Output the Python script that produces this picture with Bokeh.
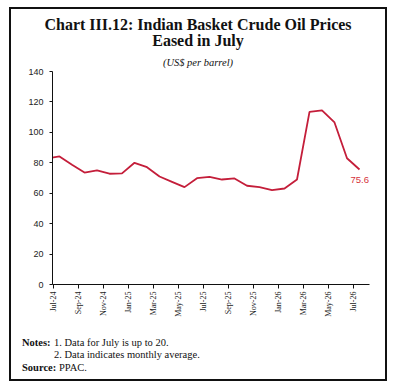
import math
from bokeh.plotting import figure
from bokeh.layouts import column
from bokeh.models import Range1d, FixedTicker, Label, ColumnDataSource, Div
from bokeh.embed import file_html
from bokeh.resources import INLINE

# Monthly average Indian basket crude price (US$ per barrel)
months = ["Jun-24", "Jul-24", "Aug-24", "Sep-24", "Oct-24", "Nov-24", "Dec-24",
          "Jan-25", "Feb-25", "Mar-25", "Apr-25", "May-25", "Jun-25", "Jul-25",
          "Aug-25", "Sep-25", "Oct-25", "Nov-25", "Dec-25", "Jan-26", "Feb-26",
          "Mar-26", "Apr-26", "May-26", "Jun-26", "Jul-26"]
prices = [82.8, 84.2, 78.7, 73.6, 75.0, 72.8, 73.0,
          80.0, 77.1, 71.0, 67.5, 64.0, 69.9, 70.8,
          69.0, 69.7, 64.9, 64.0, 62.0, 63.1, 69.0,
          113.5, 114.4, 106.5, 83.0, 75.6]
tick_labels = ["Jul-24", "Sep-24", "Nov-24", "Jan-25", "Mar-25", "May-25", "Jul-25",
               "Sep-25", "Nov-25", "Jan-26", "Mar-26", "May-26", "Jul-26"]
y_ticks = [0, 20, 40, 60, 80, 100, 120, 140]

title_lines = ["Chart III.12: Indian Basket Crude Oil Prices", "Eased in July"]
unit_text = "(US$ per barrel)"
note_lines = ["1. Data for July is up to 20.", "2. Data indicates monthly average."]
source_text = "PPAC."

# page geometry (pixels)
IN_L, IN_R = 11, 385          # inside of the framing box
HEAD_T, HEAD_B = 9, 67        # heading strip
CHART_B = 330                 # bottom of the chart strip
NOTE_B = 379                  # bottom of the notes strip
FL, FR, FT, FB = 52, 369, 71, 284   # plot frame edges
INK = "#111111"
INNER_W = IN_R - IN_L


def line_box(left, cy, text, size, weight="normal", style="normal", centered=False, top0=0):
    # one absolutely placed line of text, vertically centred on cy (page px)
    lh = 2 * size
    top = cy - top0 - lh / 2
    if centered:
        pos = f"left:0;width:{INNER_W}px;text-align:center;"
    else:
        pos = f"left:{left - IN_L}px;"
    return (f'<div style="position:absolute;{pos}top:{top:.1f}px;height:{lh}px;'
            f'line-height:{lh}px;font-size:{size}px;font-weight:{weight};'
            f'font-style:{style};white-space:nowrap;">{text}</div>')


def strip(top, bottom, inner):
    html = (f'<div style="position:relative;width:{INNER_W}px;height:{bottom - top}px;'
            f'font-family:\'Liberation Serif\';color:{INK};">{inner}</div>')
    return Div(text=html, width=INNER_W, height=bottom - top, disable_math=True,
               margin=0, styles={"overflow": "visible"})


head = strip(HEAD_T, HEAD_B,
             line_box(0, 25, title_lines[0], 16, "bold", centered=True, top0=HEAD_T)
             + line_box(0, 40.5, title_lines[1], 16, "bold", centered=True, top0=HEAD_T)
             + line_box(0, 62.5, unit_text, 10.5, style="italic", centered=True, top0=HEAD_T))

notes = strip(CHART_B, NOTE_B,
              line_box(22, 342, "Notes:", 10.5, "bold", top0=CHART_B)
              + line_box(54, 342, note_lines[0], 10.5, top0=CHART_B)
              + line_box(54, 354, note_lines[1], 10.5, top0=CHART_B)
              + line_box(22, 367, "Source:", 10.5, "bold", top0=CHART_B)
              + line_box(59, 367, source_text, 10.5, top0=CHART_B))

# position index: Jul-24 -> 0
xs = [i - 1 for i in range(len(months))]
src = ColumnDataSource(dict(x=xs, y=prices, month=months))

x_lo = -0.56
px_per_month = 12.5
p = figure(width=INNER_W, height=CHART_B - HEAD_B, output_backend="svg",
           toolbar_location=None,
           x_range=Range1d(x_lo, x_lo + (FR - FL) / px_per_month), y_range=Range1d(0, 140),
           min_border_left=FL - IN_L, min_border_right=IN_R - FR,
           min_border_top=FT - HEAD_B, min_border_bottom=CHART_B - FB)
p.outline_line_color = None
p.xgrid.grid_line_color = None
p.ygrid.grid_line_color = None
p.border_fill_color = None

p.line("x", "y", source=src, line_color="#C41E3A", line_width=1.8)

xa = p.xaxis[0]
tick_pos = [2 * k - 0.5 for k in range(len(tick_labels))]
xa.ticker = FixedTicker(ticks=tick_pos)
xa.major_label_overrides = {t: lab for t, lab in zip(tick_pos, tick_labels)}
xa.major_label_orientation = math.pi / 2
xa.major_label_text_font = "Liberation Serif"
xa.major_label_text_font_size = "8px"
xa.major_label_text_color = "#222222"
xa.major_label_standoff = 3
xa.major_tick_in = 0
xa.major_tick_out = 4
xa.minor_tick_line_color = None
xa.axis_line_color = INK
xa.major_tick_line_color = INK

ya = p.yaxis[0]
ya.ticker = FixedTicker(ticks=y_ticks)
ya.major_label_text_font = "Liberation Sans"
ya.major_label_text_font_size = "9px"
ya.major_label_text_color = "#222222"
ya.major_label_standoff = 6
ya.major_tick_in = 0
ya.major_tick_out = 3
ya.minor_tick_line_color = None
ya.axis_line_color = INK
ya.major_tick_line_color = INK

# value of the latest month
p.add_layout(Label(x=xs[-1], y=prices[-1], text=f"{prices[-1]:.1f}",
                   x_offset=-9, y_offset=-11, text_align="left",
                   text_baseline="middle", text_color="#D6323C",
                   text_font="Liberation Sans", text_font_size="9.5px"))

page = column(head, p, notes, spacing=0,
              styles={"border": "2px solid #111111", "margin-left": "9px",
                      "margin-top": "7px", "background-color": "white"})

open("out.html", "w").write(file_html(page, INLINE))
